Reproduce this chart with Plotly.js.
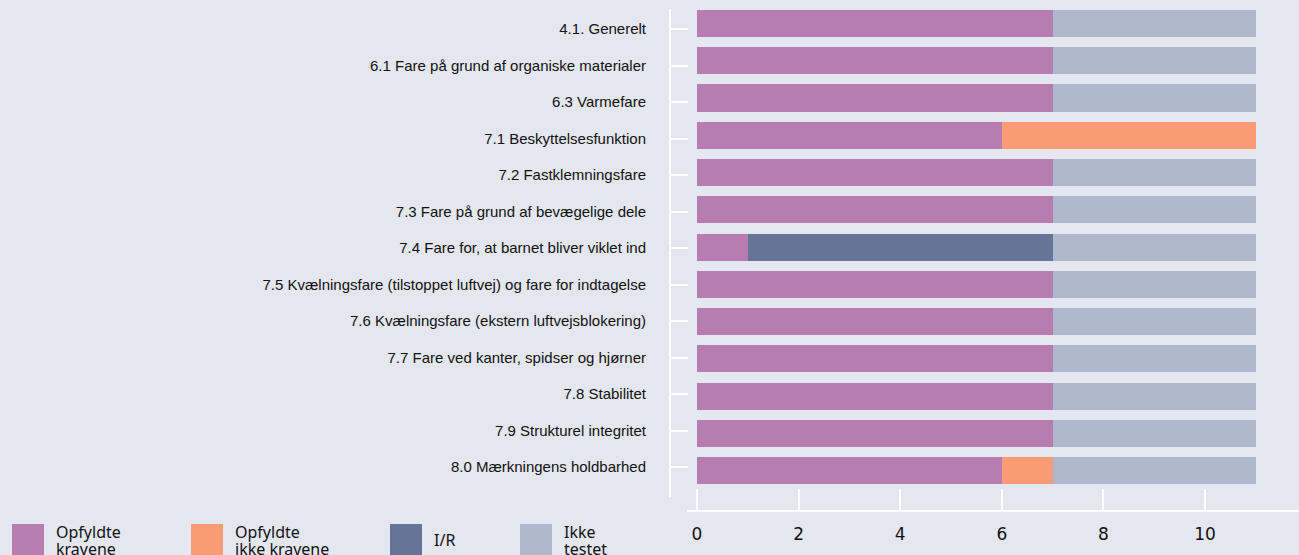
<!DOCTYPE html>
<html><head><meta charset="utf-8">
<script src="https://cdn.plot.ly/plotly-3.0.1.min.js"></script>
<style>html,body{margin:0;padding:0;background:#E4E7EF;}#chart{width:1299px;height:555px;}</style>
</head><body><div id="chart"></div>
<script>
const categories = [
  '4.1. Generelt',
  '6.1 Fare på grund af organiske materialer',
  '6.3 Varmefare',
  '7.1 Beskyttelsesfunktion',
  '7.2 Fastklemningsfare',
  '7.3 Fare på grund af bevægelige dele',
  '7.4 Fare for, at barnet bliver viklet ind',
  '7.5 Kvælningsfare (tilstoppet luftvej) og fare for indtagelse',
  '7.6 Kvælningsfare (ekstern luftvejsblokering)',
  '7.7 Fare ved kanter, spidser og hjørner',
  '7.8 Stabilitet',
  '7.9 Strukturel integritet',
  '8.0 Mærkningens holdbarhed'
];
const opfyldte     = [7, 7, 7, 6, 7, 7, 1, 7, 7, 7, 7, 7, 6];
const ikkeOpfyldte = [0, 0, 0, 5, 0, 0, 0, 0, 0, 0, 0, 0, 1];
const ir           = [0, 0, 0, 0, 0, 0, 6, 0, 0, 0, 0, 0, 0];
const ikkeTestet   = [4, 4, 4, 0, 4, 4, 4, 4, 4, 4, 4, 4, 4];
const seriesNames  = ['Opfyldte kravene', 'Opfyldte ikke kravene', 'I/R', 'Ikke testet'];
const legendLines  = [['Opfyldte', 'kravene'], ['Opfyldte', 'ikke kravene'], ['I/R'], ['Ikke', 'testet']];
const seriesColors = ['#B77DB0', '#F99C75', '#667498', '#ADB8CC'];
const xTickVals    = [0, 2, 4, 6, 8, 10];

const seriesValues = [opfyldte, ikkeOpfyldte, ir, ikkeTestet];
const traces = seriesValues.map((vals, i) => ({
  type: 'bar', orientation: 'h',
  x: vals, y: categories,
  name: seriesNames[i],
  marker: {color: seriesColors[i], line: {width: 0}},
  hoverinfo: 'x+name'
}));
// empty helper trace so that the label axis (y2) is drawn
traces.push({type: 'scatter', mode: 'none', x: [], y: [], yaxis: 'y2', hoverinfo: 'skip', showlegend: false});

// layout helpers (pixel -> paper)
const L = 670, W = 629, T = 9, H = 502;
const px = v => (v - L) / W;
const py = v => (T + H - v) / H;

const bg = '#E4E7EF';
const shapes = [], annotations = [];
const itemLeft = [12, 191, 390, 520];
seriesNames.forEach((n, i) => {
  shapes.push({type: 'rect', xref: 'paper', yref: 'paper',
    x0: px(itemLeft[i]), x1: px(itemLeft[i] + 32), y0: py(524), y1: py(570),
    fillcolor: seriesColors[i], line: {width: 0}, layer: 'above'});
  const lines = legendLines[i];
  const centers = lines.length === 1 ? [540] : [532, 549];
  lines.forEach((t, k) => {
    annotations.push({xref: 'paper', yref: 'paper', x: px(itemLeft[i] + 42), y: py(centers[k]),
      xanchor: 'left', yanchor: 'middle', showarrow: false, text: t,
      font: {family: 'Noto Sans', size: 16, color: '#111'}});
  });
});

const catIndex = categories.map((c, i) => i);

const layout = {
  width: 1299, height: 555,
  paper_bgcolor: bg, plot_bgcolor: bg,
  margin: {l: L, r: 0, t: T, b: 555 - T - H, pad: 0},
  barmode: 'stack', bargap: 0.275,
  showlegend: false,
  xaxis: {
    domain: [17 / W, 1], anchor: 'free', position: 0,
    range: [-10 / 50.8, 602 / 50.8],
    tickvals: xTickVals, ticks: 'inside', ticklen: 21, tickwidth: 2, tickcolor: '#fff',
    showline: true, linecolor: '#fff', linewidth: 2,
    showgrid: false, zeroline: false,
    ticklabelstandoff: 8,
    tickfont: {family: 'DejaVu Sans', size: 17, color: '#111'}
  },
  yaxis: {
    domain: [14 / H, 1], anchor: 'free', position: 0,
    type: 'category', categoryorder: 'array', categoryarray: categories,
    range: [12.711, -0.389],
    ticks: '', showticklabels: false, showline: false,
    showgrid: false, zeroline: false
  },
  yaxis2: {
    overlaying: 'y', side: 'left', anchor: 'free', position: 0,
    type: 'linear', range: [12.822, -0.548],
    tickmode: 'array', tickvals: catIndex, ticktext: categories,
    ticks: 'inside', ticklen: 17, tickwidth: 2, tickcolor: '#fff',
    showline: true, linecolor: '#fff', linewidth: 2,
    showgrid: false, zeroline: false,
    ticklabelstandoff: 20,
    tickfont: {family: 'Liberation Sans', size: 15, color: '#111'}
  },
  shapes: shapes,
  annotations: annotations
};

Plotly.newPlot('chart', traces, layout, {displayModeBar: false});
</script>
</body></html>
